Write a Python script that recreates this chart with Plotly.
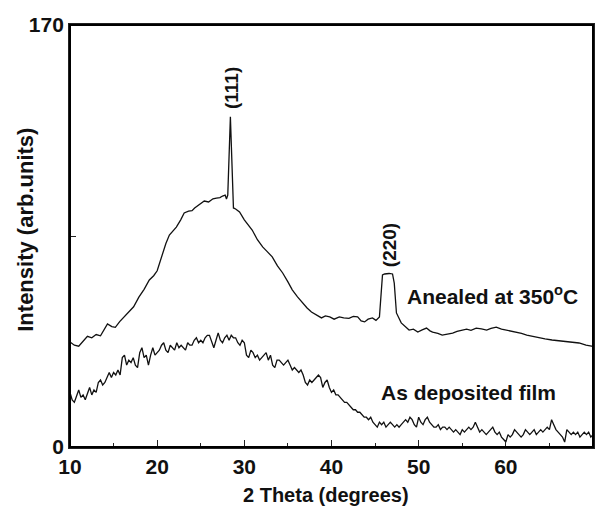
import plotly.graph_objects as go

# ---- Data ----
dep_start = 10.0
dep_step = 0.25
dep_intensity = [
    22, 19, 18, 21,  23, 20, 21, 19,  22, 24, 21, 23,  22, 26, 27, 25,
    26, 28, 30, 28,  30, 29, 31, 29,  36, 37, 33, 35,  34, 36, 33, 32,
    38, 40, 36, 37,  33, 37, 40, 37,  38, 39, 41, 42,  39, 38, 41, 40,
    39, 42, 40, 41,  40, 39, 42, 41,  41, 43, 44, 42,  43, 42, 44, 45,
    45, 42, 40, 43,  46, 43, 42, 44,  45, 43, 45, 44,  44, 42, 41, 43,
    42, 37, 36, 39,  38, 36, 37, 35,  36, 37, 38, 35,  37, 33, 32, 35,
    35, 34, 33, 34,  35, 33, 31, 32,  31, 30, 31, 29,  26, 25, 27, 26,
    27, 28, 29, 28,  24, 26, 27, 24,  22, 23, 21, 21,  20, 19, 18, 18,
    17, 16, 15, 15,  14, 14, 13, 12,  12, 11, 12, 10,   9,  8, 10,  9,
    10,  8,  9, 10,   9,  8,  9,  8,   9, 10, 11, 10,  12, 11,  9,  8,
    12, 10,  9, 11,  12, 10,  9,  8,   8,  9,  7,  8,   8,  7,  8,  7,
     6,  7,  6,  5,   7,  6,  7,  8,   7,  8, 10,  8,   6,  7,  6,  5,
     6,  7,  8,  6,   5,  6,  4,  3,   2,  5,  4,  5,   7,  6,  5,  4,
     5,  7,  6,  5,   6,  7,  5,  6,   7,  6,  7,  8,   7, 11,  9,  7,
     6,  5,  4,  2,   7,  6,  5,  6,   5,  6,  4,  5,   6,  5,  6,  4,
     5,
]
dep_two_theta = [round(dep_start + dep_step * i, 2) for i in range(len(dep_intensity))]

ann_two_theta = [
    10.0, 10.5, 11.0, 11.5, 12.0, 12.5, 13.0, 13.5, 14.0, 14.3, 14.8, 15.2,
    15.7, 16.2, 16.8, 17.3, 17.9, 18.5, 19.1, 19.6, 20.0, 20.6, 21.0, 21.4,
    21.8, 22.2, 22.7, 23.1, 23.6, 24.0, 24.3, 24.8, 25.4, 25.9, 26.4, 26.8,
    27.2, 27.5, 27.8, 27.95, 28.1, 28.4, 28.75, 29.0, 29.45, 30.0, 30.5, 30.9,
    31.5, 32.1, 32.6, 33.2, 33.8, 34.4, 35.0, 35.5, 36.1, 36.6, 37.2, 37.7,
    38.3, 38.85, 39.3, 39.8, 40.3, 40.9, 41.4, 42.0, 42.5, 43.0, 43.4, 43.8,
    44.2, 44.7, 45.1, 45.5, 45.85, 46.1, 46.6, 47.0, 47.2, 47.45, 48.0, 48.5,
    48.9, 49.4, 49.9, 50.4, 50.9, 51.3, 51.6, 52.2, 52.7, 53.3, 53.9, 54.4,
    55.0, 55.5, 56.0, 56.6, 57.2, 57.8, 58.3, 58.9, 59.5, 60.05, 60.6, 61.2,
    61.8, 62.4, 63.1, 63.8, 64.5, 65.3, 66.1, 66.95, 67.7, 68.4, 69.2, 70.0,
]
ann_intensity = [
    42.3, 41.0, 40.6, 42.5, 44.6, 44.0, 45.3, 44.8, 47.5, 49.6, 48.5, 48.2,
    50.5, 52.4, 54.4, 56.5, 60.4, 63.5, 67.3, 69.0, 71.0, 78.2, 82.0, 85.4,
    87.0, 88.6, 91.5, 94.3, 95.0, 95.2, 96.3, 97.5, 99.1, 98.7, 100.0, 100.3,
    100.5, 101.1, 101.5, 99.9, 101.5, 133.0, 96.3, 95.9, 94.7, 91.5, 89.0, 87.4,
    83.5, 80.6, 78.8, 76.6, 73.0, 70.1, 66.5, 63.3, 60.5, 58.4, 56.0, 54.4,
    53.0, 52.0, 52.8, 52.4, 51.5, 52.4, 52.0, 51.8, 52.6, 52.4, 50.8, 50.4,
    51.5, 52.0, 51.0, 52.4, 69.3, 69.7, 69.9, 69.7, 66.0, 54.0, 50.0, 48.5,
    47.1, 47.5, 46.3, 47.2, 47.9, 46.8, 46.3, 45.8, 45.1, 45.5, 45.9, 46.6,
    47.1, 47.5, 47.0, 47.9, 47.6, 47.1, 47.8, 48.3, 47.5, 47.1, 46.5, 46.3,
    45.8, 45.1, 44.5, 43.9, 43.6, 43.1, 42.8, 42.3, 42.2, 41.9, 41.0, 40.5,
]

x_ticks = [10, 20, 30, 40, 50, 60, 70]
x_minor_ticks = [15, 25, 35, 45, 55, 65]
y_ticks = [0, 85, 170]
y_tick_text = ["0", "", "170"]

peak_labels = ["(111)", "(220)"]
peak_label_pos = [(28.55, 144.5), (46.65, 81.5)]
curve_labels = ["Anealed at 350<sup>o</sup>C", "As deposited film"]
curve_label_pos = [(48.4, 61.2), (45.4, 21.8)]

FONT = "Liberation Sans, Arial, sans-serif"
AX = "#222222"
TXT = "#111111"

fig = go.Figure()
fig.add_trace(go.Scatter(x=ann_two_theta, y=ann_intensity, mode="lines",
                         line=dict(color=TXT, width=1.3), showlegend=False, cliponaxis=True))
fig.add_trace(go.Scatter(x=dep_two_theta, y=dep_intensity, mode="lines",
                         line=dict(color=TXT, width=1.3), showlegend=False, cliponaxis=True))

for txt, (xx, yy) in zip(peak_labels, peak_label_pos):
    fig.add_annotation(x=xx, y=yy, text=txt, showarrow=False, textangle=-90,
                       font=dict(family=FONT, size=19, color=TXT, weight="bold"),
                       xanchor="center", yanchor="middle")
for txt, (xx, yy) in zip(curve_labels, curve_label_pos):
    fig.add_annotation(x=xx, y=yy, text=txt, showarrow=False,
                       font=dict(family=FONT, size=21, color=TXT, weight="bold"),
                       xanchor="left", yanchor="middle")

fig.add_annotation(xref="paper", yref="paper", x=-0.084, y=0.515,
                   text="Intensity (arb.units)", showarrow=False, textangle=-90,
                   font=dict(family=FONT, size=22, color=TXT, weight="bold"),
                   xanchor="center", yanchor="middle")
fig.add_annotation(xref="paper", yref="paper", x=0.49, y=-0.113,
                   text="2 Theta (degrees)", showarrow=False,
                   font=dict(family=FONT, size=20, color=TXT, weight="bold"),
                   xanchor="center", yanchor="middle")

# full box around the plotting area
fig.add_shape(type="rect", xref="paper", yref="paper", x0=0, y0=0, x1=1, y1=1,
              line=dict(color="black", width=2), fillcolor="rgba(0,0,0,0)", layer="above")

fig.update_layout(
    width=604, height=506,
    margin=dict(l=70, r=11, t=25, b=59),
    paper_bgcolor="white", plot_bgcolor="white",
    font=dict(family=FONT, color=TXT),
    xaxis=dict(
        range=[10, 70], tickvals=x_ticks, ticks="inside", ticklen=7, tickwidth=1.3,
        tickcolor=AX, showline=True, linecolor=AX, linewidth=1.8, mirror=True,
        showgrid=False, zeroline=False, automargin=False,
        tickfont=dict(family=FONT, size=21, color=TXT, weight="bold"),
        minor=dict(ticks="inside", ticklen=4, tickvals=x_minor_ticks, tickcolor=AX,
                   tickwidth=1.2, showgrid=False),
    ),
    yaxis=dict(
        range=[0, 170], tickvals=y_ticks, ticktext=y_tick_text, ticks="inside",
        ticklen=6, tickwidth=1.3, tickcolor=AX, showline=True, linecolor=AX,
        linewidth=1.8, mirror=True, showgrid=False, zeroline=False, automargin=False,
        tickfont=dict(family=FONT, size=21, color=TXT, weight="bold"),
    ),
)

fig.write_html("out.html", config={"displayModeBar": False},
               post_script="document.body.style.margin='0';document.body.style.overflow='hidden';")
